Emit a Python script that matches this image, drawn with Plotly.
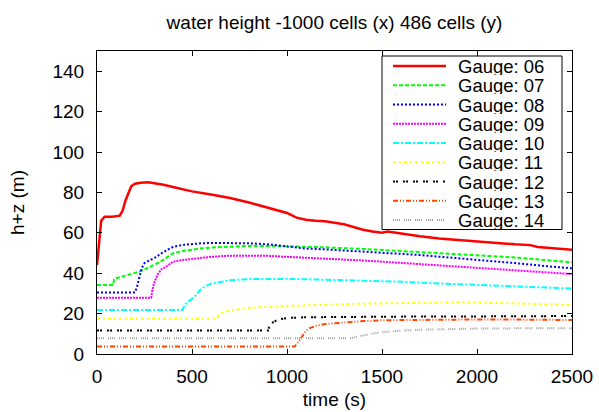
import plotly.graph_objects as go

# ---------------- data ----------------
names = ["Gauge: 06", "Gauge: 07", "Gauge: 08", "Gauge: 09", "Gauge: 10",
         "Gauge: 11", "Gauge: 12", "Gauge: 13", "Gauge: 14"]

t06 = [0, 8, 15, 22, 40, 80, 120, 135, 150, 165, 180, 200, 230, 270, 300, 350, 400, 500, 600, 700, 800, 900,
       1000, 1050, 1100, 1150, 1200, 1300, 1400, 1450, 1500, 1530, 1560, 1600, 1700, 1800, 1900, 2000, 2100,
       2200, 2280, 2320, 2400, 2500]
h06 = [44, 52, 62, 66, 68, 68, 68.5, 71, 76, 80, 83, 84.3, 84.8, 85, 84.6, 83.8, 82.7, 80.5, 79, 77.2, 75, 72.5,
       69.8, 67.5, 66.5, 66, 65.7, 64.2, 61.5, 60.6, 60, 60.6, 60.2, 59.4, 58.3, 57.2, 56.4, 55.6, 55.0,
       54.3, 53.9, 53.0, 52.3, 51.6]

t07 = [0, 85, 90, 100, 150, 200, 230, 260, 300, 330, 360, 400, 450, 500, 550, 600, 700, 800, 900, 1000, 1100,
       1200, 1300, 1400, 1500, 1600, 1700, 1800, 1900, 2000, 2100, 2200, 2300, 2400, 2500]
h07 = [34.2, 34.2, 37, 37.5, 38.8, 40.2, 41, 42.3, 44, 45.5, 47.3, 49.8, 51, 51.8, 52.3, 52.7, 53.2, 53.5, 53.5,
       53.4, 53.1, 52.8, 52.5, 52.0, 51.5, 51.0, 50.6, 50.1, 49.6, 49.1, 48.5, 47.8, 47, 46.2, 45.4]

t08 = [0, 200, 210, 222, 235, 250, 280, 310, 350, 400, 450, 500, 550, 600, 700, 800, 900, 1000, 1100, 1200,
       1300, 1400, 1500, 1600, 1700, 1800, 1900, 2000, 2100, 2200, 2300, 2400, 2500]
h08 = [30.5, 30.5, 33, 38, 42.5, 45, 46.5, 48, 50.5, 53, 54, 54.5, 54.8, 55, 55, 54.8, 54.3, 53.2, 52.2, 51.8,
       51.3, 50.8, 50.3, 49.7, 49, 48.2, 47.3, 46.5, 45.8, 45, 44, 43.2, 42.4]

t09 = [0, 285, 292, 300, 320, 340, 360, 400, 450, 500, 550, 600, 700, 800, 900, 1000, 1100, 1200, 1300, 1400,
       1500, 1600, 1700, 1800, 1900, 2000, 2100, 2200, 2300, 2400, 2500]
h09 = [27.9, 27.9, 32, 35, 39.5, 42, 43, 45.7, 46.5, 47.1, 47.6, 48.1, 48.7, 48.8, 48.6, 48.1, 47.7, 47.3, 46.8,
       46.3, 45.7, 45.1, 44.5, 43.9, 43.2, 42.4, 41.8, 41.2, 40.6, 40.1, 39.6]

t10 = [0, 450, 460, 480, 500, 520, 540, 560, 600, 650, 700, 800, 900, 1000, 1100, 1200, 1300, 1400, 1500, 1600,
       1700, 1800, 1900, 2000, 2100, 2200, 2300, 2400, 2500]
h10 = [21.8, 21.8, 24, 26, 27.3, 29, 31.5, 33, 34.8, 35.8, 36.5, 37.1, 37.3, 37.2, 37, 36.8, 36.6, 36.4, 36.1,
       35.8, 35.3, 34.9, 34.6, 34.2, 33.8, 33.4, 33.0, 32.7, 32.4]

t11 = [0, 630, 640, 660, 700, 750, 800, 900, 1000, 1100, 1200, 1300, 1400, 1500, 1600, 1700, 1800, 1900, 2000,
       2100, 2200, 2300, 2400, 2500]
h11 = [17.4, 17.4, 19.2, 20.5, 21.6, 22.3, 22.8, 23.4, 23.8, 24.1, 24.4, 24.7, 24.9, 25.1, 25.3, 25.5, 25.6,
       25.6, 25.5, 25.3, 25, 24.8, 24.5, 24.3]

t12 = [0, 900, 910, 930, 960, 1000, 1100, 1300, 1600, 2000, 2500]
h12 = [11.6, 11.6, 14.5, 16, 17.2, 17.8, 18.2, 18.4, 18.5, 18.6, 18.8]

t13 = [0, 1040, 1060, 1080, 1100, 1120, 1150, 1200, 1300, 1400, 1500, 1700, 2000, 2300, 2500]
h13 = [3.7, 3.7, 6, 9, 11.5, 12.8, 13.9, 14.8, 15.7, 16.3, 16.7, 17.0, 17.1, 17.0, 16.8]

t14 = [0, 1340, 1360, 1400, 1450, 1500, 1600, 1700, 1800, 2000, 2200, 2500]
h14 = [7.8, 7.8, 8.4, 9.2, 10.1, 10.8, 11.6, 12.0, 12.3, 12.6, 12.7, 12.7]

x_ticks = [0, 500, 1000, 1500, 2000, 2500]
y_ticks = [0, 20, 40, 60, 80, 100, 120, 140]

series_t = [t06, t07, t08, t09, t10, t11, t12, t13, t14]
series_h = [h06, h07, h08, h09, h10, h11, h12, h13, h14]

# ---------------- styles ----------------
colors = ["#ff0000", "#00ff00", "#0000ff", "#ff00ff", "#00ffff", "#ffff00", "#000000", "#ff4500", "#a0a0a0"]
dashes = ["solid", "4px,2px", "2px,2px", "2px,1px", "6px,2px,2px,2px", "3px,3px,2px,3px",
          "2px,1px,2px,5px", "5px,2px,1px,2px,1px,2px", "1px,1px,1px,1px,1px,1px,1px,4px"]
widths = [2.5, 2, 2, 2, 2, 2, 2, 2, 2]

FONT = "Liberation Sans, Arial, sans-serif"
FS = 19
W, H = 599, 412
L, R, T, B = 97, 27, 51, 58
PW, PH = W - L - R, H - T - B


def px(xp):
    return (xp - L) / PW


def py(yp):
    return (H - B - yp) / PH


fig = go.Figure()
for i in range(len(names)):
    fig.add_trace(go.Scatter(x=series_t[i], y=series_h[i], mode="lines", name=names[i],
                             line=dict(color=colors[i], dash=dashes[i], width=widths[i]),
                             showlegend=False, hoverinfo="skip"))

# manual gnuplot-style legend
shapes = [dict(type="rect", xref="paper", yref="paper", x0=px(382), x1=px(562), y0=py(56), y1=py(229.5),
               line=dict(color="black", width=1), fillcolor="white", layer="above")]
annotations = []
for i in range(len(names)):
    yy = 66 + i * 19.25
    shapes.append(dict(type="line", xref="paper", yref="paper", x0=px(393), x1=px(446), y0=py(yy), y1=py(yy),
                       line=dict(color=colors[i], dash=dashes[i], width=widths[i]), layer="above"))
    annotations.append(dict(xref="paper", yref="paper", x=px(456), y=py(yy), text=names[i], showarrow=False,
                            xanchor="left", yanchor="middle", height=18, valign="middle",
                            font=dict(size=18.5, color="black", family=FONT)))

fig.update_layout(
    width=W, height=H,
    margin=dict(l=L, r=R, t=T, b=B, autoexpand=False),
    paper_bgcolor="white", plot_bgcolor="white",
    font=dict(family=FONT, size=FS, color="black"),
    title=dict(text="water height -1000 cells (x) 486 cells (y)", x=0.5, xref="paper",
               y=1 - 22 / H, yref="container", yanchor="middle", font=dict(size=FS)),
    xaxis=dict(range=[0, 2500], tickvals=x_ticks, ticks="inside", ticklen=5, tickcolor="black",
               showline=True, linecolor="black", linewidth=1, mirror="ticks", showgrid=False, zeroline=False,
               automargin=False, tickfont=dict(size=FS),
               title=dict(text="time (s)", standoff=6, font=dict(size=FS)), ticklabelstandoff=5),
    yaxis=dict(range=[0, 150], tickvals=y_ticks, ticks="inside", ticklen=5, tickcolor="black",
               showline=True, linecolor="black", linewidth=1, mirror="ticks", showgrid=False, zeroline=False,
               automargin=False, tickfont=dict(size=FS),
               title=dict(text="h+z (m)", standoff=22, font=dict(size=FS)), ticklabelstandoff=8),
    shapes=shapes,
    annotations=annotations,
    hovermode=False,
)

fig.write_html("out.html", config={"displayModeBar": False, "staticPlot": True},
               post_script="document.body.style.margin='0';document.body.style.overflow='hidden';")
